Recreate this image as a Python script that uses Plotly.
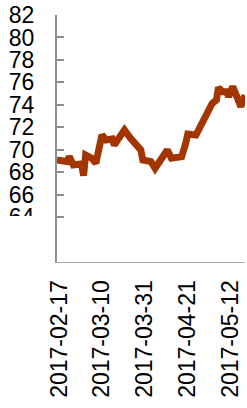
import plotly.graph_objects as go

dates = ["2017-02-16", "2017-02-21", "2017-02-22", "2017-02-24", "2017-02-28",
         "2017-03-01", "2017-03-02", "2017-03-05", "2017-03-07", "2017-03-10",
         "2017-03-12", "2017-03-15", "2017-03-16", "2017-03-21", "2017-03-24",
         "2017-03-28", "2017-03-29", "2017-03-30", "2017-04-03", "2017-04-05",
         "2017-04-08", "2017-04-11", "2017-04-13", "2017-04-18", "2017-04-20",
         "2017-04-21", "2017-04-25", "2017-04-28", "2017-05-03", "2017-05-05",
         "2017-05-06", "2017-05-08", "2017-05-10", "2017-05-11", "2017-05-13",
         "2017-05-17", "2017-05-19"]
values = [69.09, 68.94, 69.4, 68.64, 68.73,
          67.7, 69.53, 69.24, 68.8, 71.31,
          70.87, 70.96, 70.42, 71.76, 71.02,
          70.27, 69.98, 69.09, 68.94, 68.35,
          69.09, 69.98, 69.24, 69.38, 70.58,
          71.4, 71.31, 72.5, 74.14, 74.43,
          75.53, 75.17, 75.17, 74.73, 75.62,
          73.84, 74.87]

x_ticks = ["2017-02-17", "2017-03-10", "2017-03-31", "2017-04-21", "2017-05-12"]
y_ticks = [64, 66, 68, 70, 72, 74, 76, 78, 80, 82]

FONT = "Arial, Liberation Sans, sans-serif"

fig = go.Figure()
fig.add_trace(go.Scatter(x=dates, y=values, mode="lines",
                         line=dict(color="#a33600", width=7),
                         hoverinfo="skip", showlegend=False))

fig.update_layout(
    width=247, height=408,
    margin=dict(l=57, r=2, t=15, b=146),
    paper_bgcolor="white", plot_bgcolor="white",
    font=dict(family=FONT, size=23, color="black"),
    xaxis=dict(
        type="date",
        range=["2017-02-16", "2017-05-19"],
        tickvals=x_ticks, ticktext=x_ticks,
        tickangle=-90, automargin=False,
        showgrid=False, zeroline=False,
        showline=True, linecolor="#aaaaaa", linewidth=1,
        ticks="", ticklabelstandoff=8,
        tickfont=dict(family=FONT, size=23, color="black"),
    ),
    yaxis=dict(
        range=[60, 82], automargin=False,
        tickvals=y_ticks, ticktext=[str(v) for v in y_ticks],
        showgrid=False, zeroline=False,
        showline=True, linecolor="#8c8c8c", linewidth=2,
        ticks="inside", ticklen=7, tickcolor="#8c8c8c", tickwidth=2,
        ticklabelstandoff=16,
        tickfont=dict(family=FONT, size=23, color="black"),
    ),
    shapes=[dict(type="rect", xref="paper", yref="paper",
                 x0=-0.28, x1=-0.02, y0=-0.02, y1=0.186,
                 fillcolor="white", line=dict(width=0), layer="above")],
)

fig.write_html("out.html", config={"displayModeBar": False},
               post_script="document.body.style.margin='0';document.body.style.padding='0';")
